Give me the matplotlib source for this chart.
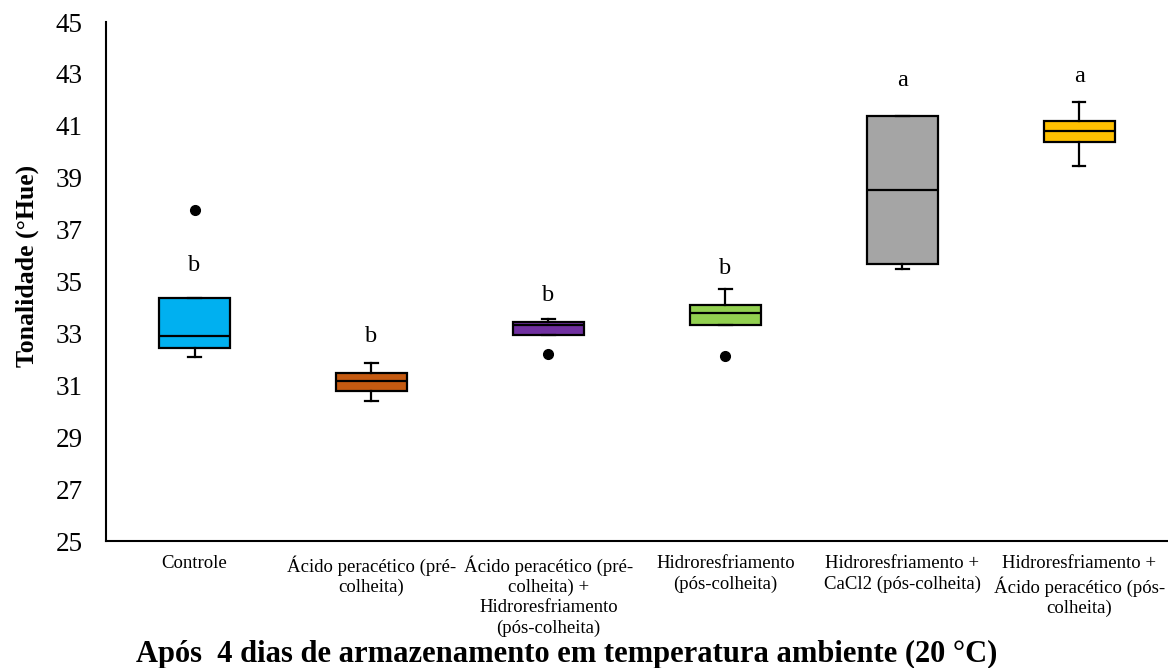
import matplotlib
matplotlib.use("Agg")
import matplotlib.pyplot as plt

# Tratamentos (rótulos do eixo x)
tratamentos = [
    "Controle",
    "Ácido peracético (pré-\ncolheita)",
    "Ácido peracético (pré-\ncolheita) +\nHidroresfriamento\n(pós-colheita)",
    "Hidroresfriamento\n(pós-colheita)",
    "Hidroresfriamento +\nCaCl2 (pós-colheita)",
    "Hidroresfriamento +\nÁcido peracético (pós-\ncolheita)",
]

# Estatísticas
minimo = [32.08, 30.40, 32.96, 33.31, 35.50, 39.45]
q1 = [32.44, 30.78, 32.96, 33.31, 35.68, 40.37]
mediana = [32.90, 31.15, 33.32, 33.80, 38.54, 40.80]
q3 = [34.37, 31.49, 33.45, 34.08, 41.38, 41.18]
maximo = [34.37, 31.85, 33.54, 34.73, 41.38, 41.90]
outliers = [[37.77], [], [32.19], [32.15], [], []]

letras = ["b", "b", "b", "b", "a", "a"]
pos_letras = [35.6, 32.9, 34.45, 35.5, 42.75, 42.9]

cores = ["#00B0F0", "#C55A11", "#7030A0", "#92D050", "#A5A5A5", "#FFC000"]

plt.rcParams['font.family'] = ['Liberation Serif', 'DejaVu Serif']

fig = plt.figure(figsize=(11.68, 6.68), dpi=100)
ax = fig.add_axes([0.0908, 0.190, 0.909, 0.777])

stats = []
for i in range(len(tratamentos)):
    stats.append({
        "whislo": minimo[i], "q1": q1[i], "med": mediana[i],
        "q3": q3[i], "whishi": maximo[i], "fliers": outliers[i],
    })

posicoes = list(range(1, len(tratamentos) + 1))
bp = ax.bxp(stats, positions=posicoes, widths=0.40, patch_artist=True,
            showfliers=True,
            boxprops=dict(edgecolor="black", linewidth=1.6),
            medianprops=dict(color="black", linewidth=1.6),
            whiskerprops=dict(color="black", linewidth=1.6),
            capprops=dict(color="black", linewidth=1.6),
            flierprops=dict(marker="o", markerfacecolor="black",
                            markeredgecolor="black", markersize=7))
for caixa, cor in zip(bp["boxes"], cores):
    caixa.set_facecolor(cor)
for cap in bp["caps"]:
    x = cap.get_xdata()
    c = (x[0] + x[1]) / 2
    cap.set_xdata([c - 0.035, c + 0.035])

for p, l, y in zip(posicoes, letras, pos_letras):
    ax.text(p, y, l, ha="center", va="center", fontsize=17.5)

ax.set_xlim(0.5, len(tratamentos) + 0.5)
ax.set_ylim(25, 45)
ax.set_yticks(range(25, 46, 2))
ax.set_xticks(posicoes)
ax.set_xticklabels(tratamentos, fontsize=13.5, linespacing=1.25)
ax.tick_params(axis="y", labelsize=19.5, length=0, pad=17)
ax.tick_params(axis="x", length=0, pad=10)

for lado in ["top", "right"]:
    ax.spines[lado].set_visible(False)
ax.spines["left"].set_linewidth(1.5)
ax.spines["bottom"].set_linewidth(1.5)

ax.set_ylabel("Tonalidade (°Hue)", fontsize=18.5, fontweight="bold")
ax.yaxis.set_label_coords(-0.063, 0.53)
ax.set_xlabel("Após  4 dias de armazenamento em temperatura ambiente (20 °C)",
              fontsize=22, fontweight="bold")
ax.xaxis.set_label_coords(0.434, -0.19)

fig.savefig("out.png", dpi=100)
